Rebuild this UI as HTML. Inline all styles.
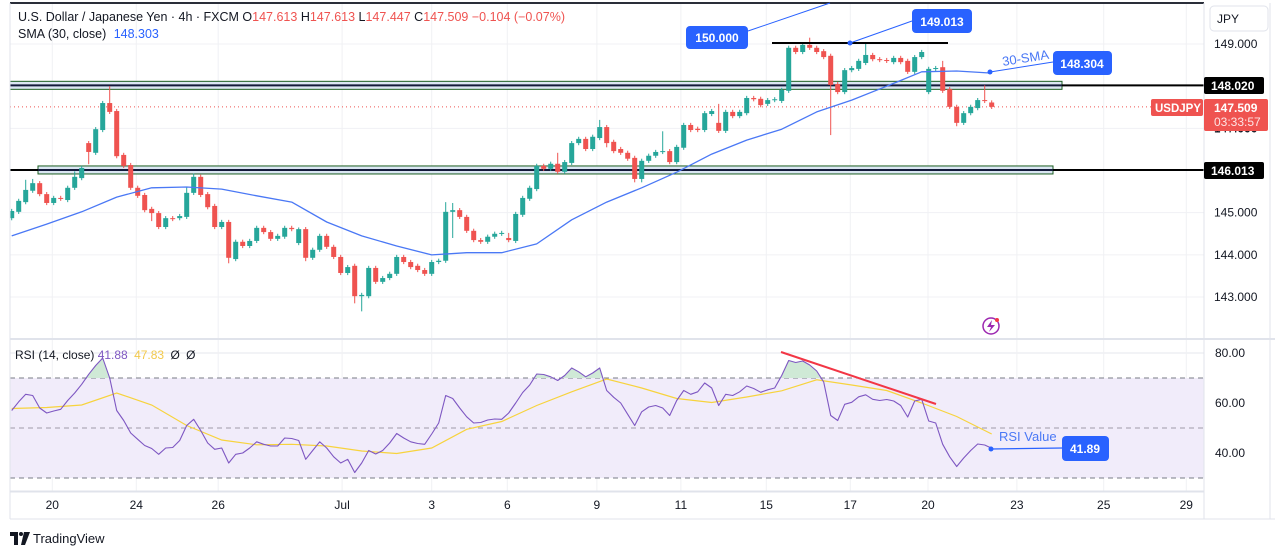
<!DOCTYPE html>
<html><head><meta charset="utf-8">
<style>
html,body{margin:0;padding:0;background:#fff;}
body{width:1275px;height:555px;overflow:hidden;position:relative;font-family:"Liberation Sans",sans-serif;}
svg{position:absolute;left:0;top:0;}
</style></head>
<body>
<svg id="chart" width="1275" height="555" viewBox="0 0 1275 555">
  <rect x="0" y="0" width="1275" height="555" fill="#fff"/>
  <g id="grid"></g>
  <g id="zones"></g>
  <g id="candles" clip-path="url(#pclip)"></g>
  <g id="sma" clip-path="url(#pclip)"></g>
  <g id="rsi"></g>
  <g id="annot"></g>
  <g id="axes"></g>
  <defs>
    <clipPath id="pclip"><rect x="10" y="3" width="1194" height="335"/></clipPath>
    <clipPath id="obclip"><rect x="10" y="340" width="1194" height="38"/></clipPath>
  </defs>
</svg>
<script>
// ---- data ----
const opens  = [144.87,145.02,145.25,145.52,145.70,145.44,145.23,145.35,145.30,145.59,145.82,146.65,146.42,146.96,147.60,147.41,146.37,146.13,145.59,145.42,145.09,144.99,144.66,144.87,144.87,144.90,145.47,145.85,145.44,145.16,144.66,144.78,143.90,144.31,144.21,144.33,144.64,144.54,144.38,144.43,144.64,144.28,144.61,143.93,144.12,144.45,144.19,143.95,143.57,143.74,143.02,143.02,143.69,143.36,143.45,143.55,143.95,143.83,143.74,143.64,143.55,143.83,143.86,145.02,145.06,144.90,144.57,144.35,144.31,144.43,144.50,144.40,144.33,144.95,145.33,145.56,146.11,146.04,146.16,145.97,146.18,146.65,146.75,146.51,146.77,147.03,146.68,146.51,146.42,146.30,145.80,146.23,146.35,146.44,146.46,146.20,146.54,147.08,146.99,146.96,147.34,147.13,146.94,147.39,147.29,147.36,147.72,147.70,147.58,147.67,147.65,147.89,148.91,148.81,148.98,148.91,148.83,148.72,148.05,147.86,148.38,148.41,148.55,148.74,148.64,148.62,148.57,148.67,148.60,148.34,148.69,147.86,148.41,148.45,147.93,147.51,147.13,147.36,147.48,147.67,147.613];
const closes = [145.04,145.28,145.54,145.70,145.44,145.23,145.35,145.33,145.59,145.85,146.06,146.44,146.98,147.60,147.39,146.34,146.11,145.59,145.40,145.06,144.99,144.66,144.87,144.85,144.92,145.47,145.85,145.42,145.13,144.66,144.78,143.93,144.31,144.21,144.33,144.64,144.54,144.38,144.45,144.64,144.61,144.61,143.93,144.12,144.45,144.19,143.95,143.57,143.71,143.02,143.05,143.69,143.36,143.45,143.55,143.95,143.83,143.71,143.64,143.55,143.83,143.86,145.02,145.06,144.90,144.57,144.35,144.31,144.43,144.50,144.52,144.35,144.97,145.35,145.59,146.11,146.04,146.16,145.97,146.20,146.65,146.75,146.51,146.80,147.03,146.65,146.46,146.42,146.28,145.80,146.23,146.35,146.44,146.46,146.20,146.56,147.08,146.96,146.96,147.36,147.41,146.94,147.39,147.29,147.39,147.72,147.69,147.55,147.67,147.69,147.91,148.91,148.81,148.98,148.91,148.81,148.69,148.03,147.86,148.38,148.43,148.60,148.74,148.64,148.62,148.60,148.67,148.57,148.34,148.69,148.81,148.41,148.43,147.89,147.51,147.13,147.36,147.51,147.67,147.65,147.509];
const wickHigh = {2:145.78,11:146.70,14:148.00,25:145.62,26:145.93,41:144.65,62:145.25,63:145.23,71:144.52,78:146.42,84:147.20,93:146.93,101:147.58,111:148.96,114:149.15,122:149.00,133:148.60,139:148.02,3:145.80,9:145.98};
const wickLow  = {11:146.15,20:144.80,49:142.85,50:142.66,63:144.40,85:146.55,89:145.72,90:145.72,117:146.84,31:143.80,42:143.85,135:147.05};
const smaIdx = [0,5,10,15,20,25,30,35,40,45,50,55,60,65,70,75,80,85,90,95,100,105,110,115,120,125,130,135,140];
const smaVal = [144.45,144.73,145.02,145.37,145.59,145.61,145.56,145.40,145.25,144.78,144.45,144.21,144.00,144.05,144.05,144.26,144.83,145.25,145.59,145.96,146.39,146.72,146.98,147.39,147.67,148.00,148.34,148.36,148.31];
const rsiVals = [57,60.5,63.5,63,58,56,56.8,57.5,61,64,67.5,71.5,75,78,70,57,53,48,45.5,43,41.8,39.5,42,42.2,45,51,53.5,49,44,41.5,42,36,39.5,40,42,44.5,43.5,42.8,42.8,46,45.8,45,37.5,41,44.5,42,38.5,36,37.5,32.2,36,41,39.6,41,44,47.8,46,44.5,43.8,43.5,47.6,52,63,61.8,58,54.5,52,52.2,53.2,53.6,53.5,56,60,64.2,67.2,71.6,71.4,70.5,69,71,74,72.5,70.5,72,74,65,62.3,60,55.5,51,56.5,58.4,59,58,55,61,65,63.5,64.5,68,66,59,63.5,63,64.5,66.8,65.8,64.3,65.3,66,71,77,76.2,76.8,75.2,72.8,68.4,55,53,59.5,60.3,62.5,63.3,61.5,61,61.4,60.8,59,54.4,60.8,61.5,52.8,52,43.5,38.5,34.6,38,41,43.6,43.2,41.9];
const rsiMaIdx = [0,5,10,15,20,25,30,35,40,45,50,55,60,65,70,75,80,85,90,95,100,105,110,115,120,125,130,135,140];
const rsiMaVal = [57.8,58.2,59.2,64,59.2,51,45.2,43.3,43.5,42.8,40.8,39.8,42,49.5,52.6,59,64.5,69.6,66,61.8,60.2,62.4,64.9,69.3,67.2,65,60,54.6,47.6];
const priceTicks = [149,148,147,146,145,144,143];
const rsiTicks = [80,60,40];
const rsiDashed = [70,50,30];
const dayLabels = ["20","24","26","Jul","3","6","9","11","15","17","20","23","25","29"];
const dayIndex  = [5.8,17.8,29.5,47.2,60,70.8,83.6,95.6,107.8,119.8,130.9,143.6,156,167.8];

// ---- scales ----
const X0=11.7, STEP=7;
const cx = i => X0 + i*STEP;
const py = p => 44 + (149-p)*42.17;
const ry = v => 353 + (80-v)*2.5;
const NS="http://www.w3.org/2000/svg";
function mk(tag, attrs, parent){const e=document.createElementNS(NS,tag);for(const k in attrs)e.setAttribute(k,attrs[k]);parent.appendChild(e);return e;}
const gGrid=document.getElementById('grid'), gC=document.getElementById('candles'), gS=document.getElementById('sma'), gR=document.getElementById('rsi'), gA=document.getElementById('axes'), gN=document.getElementById('annot'), gZ=document.getElementById('zones');

// grid
priceTicks.forEach(p=>{const l=mk('line',{x1:10,x2:1204,y1:py(p),y2:py(p),stroke:'#f0f1f4','stroke-width':1},gGrid);

});
rsiTicks.forEach(v=>{const l=mk('line',{x1:10,x2:1204,y1:ry(v),y2:ry(v),stroke:'#e6e7ec','stroke-width':1},gGrid);

});
dayIndex.forEach(d=>{const l=mk('line',{x1:cx(d),x2:cx(d),y1:3,y2:491,stroke:'#f0f1f4','stroke-width':1},gGrid);

});

// frame
mk('line',{x1:10,x2:1204,y1:3,y2:3,stroke:'#2a2e39','stroke-width':2},gA);
mk('line',{x1:10,x2:10,y1:3,y2:519,stroke:'#e0e3eb'},gA);
mk('line',{x1:1204,x2:1204,y1:3,y2:519,stroke:'#e0e3eb'},gA);
mk('line',{x1:10,x2:1275,y1:339,y2:339,stroke:'#e0e3eb','stroke-width':2},gA);
mk('line',{x1:10,x2:1204,y1:491.5,y2:491.5,stroke:'#e0e3eb','stroke-width':2},gA);
mk('line',{x1:10,x2:1275,y1:519,y2:519,stroke:'#e0e3eb'},gA);
mk('line',{x1:1270,x2:1270,y1:3,y2:519,stroke:'#e0e3eb'},gA);

// zones
function zone(x1,x2,p,name){
  const g=mk('g',{},gZ);
  
  
  const y=py(p);
  mk('rect',{x:x1,y:y-4,width:x2-x1,height:8,fill:'#dbe6f3',stroke:'#1b5e20','stroke-width':1},g);
  mk('line',{x1:x1,x2:x2,y1:y,y2:y,stroke:'#131a3a','stroke-width':2},g);
}
zone(10,1062,148.02,'resistance-zone-148');
zone(38,1053,146.013,'support-zone-146');
mk('line',{x1:1062,x2:1204,y1:py(148.02),y2:py(148.02),stroke:'#000','stroke-width':2},gZ);
mk('line',{x1:10,x2:38,y1:py(146.013),y2:py(146.013),stroke:'#000','stroke-width':2},gZ);
mk('line',{x1:1053,x2:1204,y1:py(146.013),y2:py(146.013),stroke:'#000','stroke-width':2},gZ);
// current price line
mk('line',{x1:10,x2:1204,y1:py(147.509),y2:py(147.509),stroke:'#ef5350','stroke-width':1,'stroke-dasharray':'1 3'},gZ);

// candles
for(let i=0;i<opens.length;i++){
  const o=opens[i], c=closes[i];
  const up=c>=o, col=up?'#26a69a':'#ef5350';
  const hi = wickHigh[i]!==undefined?wickHigh[i]:Math.max(o,c)+0.05;
  const lo = wickLow[i]!==undefined?wickLow[i]:Math.min(o,c)-0.05;
  const g=mk('g',{},gC);
  
  
  mk('line',{x1:cx(i),x2:cx(i),y1:py(hi),y2:py(lo),stroke:col,'stroke-width':1},g);
  const top=py(Math.max(o,c)), bot=py(Math.min(o,c));
  mk('rect',{x:cx(i)-2.5,y:top,width:5,height:Math.max(1,bot-top),fill:col},g);
}
// SMA
let d='';smaIdx.forEach((ix,k)=>{d+=(k?'L':'M')+cx(ix).toFixed(1)+' '+py(smaVal[k]).toFixed(1)+' ';});
const sp=mk('path',{d:d,fill:'none',stroke:'#4a78f5','stroke-width':1.3,'stroke-linejoin':'round'},gS);



// RSI pane
mk('rect',{x:10,y:ry(70),width:1194,height:ry(30)-ry(70),fill:'#f1ecfa'},gR);
rsiDashed.forEach(v=>{const l=mk('line',{x1:10,x2:1204,y1:ry(v),y2:ry(v),stroke:v===50?'#9e9aa8':'#787b86','stroke-width':1,'stroke-dasharray':'5 4'},gR);

});
let rd='';rsiVals.forEach((v,i)=>{rd+=(i?'L':'M')+cx(i).toFixed(1)+' '+ry(v).toFixed(1)+' ';});
const ob=mk('path',{d:rd+'L'+cx(rsiVals.length-1)+' '+ry(70)+' L'+cx(0)+' '+ry(70)+' Z',fill:'#cfe9d6','clip-path':'url(#obclip)'},gR);


let md='';rsiMaIdx.forEach((ix,k)=>{md+=(k?'L':'M')+cx(ix).toFixed(1)+' '+ry(rsiMaVal[k]).toFixed(1)+' ';});
const ml=mk('path',{d:md,fill:'none',stroke:'#f7d33d','stroke-width':1.2},gR);


const rl=mk('path',{d:rd,fill:'none',stroke:'#7e57c2','stroke-width':1.1,'stroke-linejoin':'round'},gR);



// axes labels
function txt(x,y,s,attrs,parent,name,inter){const t=mk('text',Object.assign({x:x,y:y,'font-size':12,fill:'#131722','font-family':'"Liberation Sans",sans-serif'},attrs||{}),parent||gA);t.textContent=s;

return t;}
priceTicks.forEach(p=>{if(p===148||p===146)return;txt(1214,py(p)+4,p.toFixed(3),{},gA,'price-tick-label');});
rsiTicks.forEach(v=>{txt(1215,ry(v)+4,v.toFixed(2),{},gA,'rsi-tick-label');});
dayLabels.forEach((s,k)=>{txt(cx(dayIndex[k]),509,s,{'text-anchor':'middle'},gA,'time-tick-label');});
</script>

<!-- static overlays -->
<svg width="1275" height="555" viewBox="0 0 1275 555" style="pointer-events:none">
  <g font-family="Liberation Sans, sans-serif">
    <rect x="1210" y="6" width="58" height="25" rx="4" fill="#fff" stroke="#e0e3eb"/>
    <text x="1217" y="23" font-size="12" fill="#131722">JPY</text>
    <rect x="1204" y="77" width="60" height="17" rx="2" fill="#000"/>
    <text x="1211" y="90" font-size="12" font-weight="bold" fill="#fff">148.020</text>
    <rect x="1204" y="162" width="60" height="17" rx="2" fill="#000"/>
    <text x="1211" y="175" font-size="12" font-weight="bold" fill="#fff">146.013</text>
    <text x="1214" y="132" font-size="12" fill="#131722">147.000</text>
    <rect x="1151" y="99" width="52" height="17" rx="2" fill="#ef5350"/>
    <text x="1155" y="112" font-size="11.5" font-weight="bold" fill="#fff">USDJPY</text>
    <rect x="1204" y="99" width="64" height="32" rx="2" fill="#ef5350"/>
    <text x="1214" y="112" font-size="12" font-weight="bold" fill="#fff">147.509</text>
    <text x="1214" y="126" font-size="12" fill="#fde4e4">03:33:57</text>

    <text x="18" y="21" font-size="12.5" fill="#131722">U.S. Dollar / Japanese Yen · 4h · FXCM <tspan>O</tspan><tspan fill="#ef5350">147.613</tspan> <tspan>H</tspan><tspan fill="#ef5350">147.613</tspan> <tspan>L</tspan><tspan fill="#ef5350">147.447</tspan> <tspan>C</tspan><tspan fill="#ef5350">147.509</tspan> <tspan fill="#ef5350">−0.104 (−0.07%)</tspan></text>
    <text x="18" y="38" font-size="12.5" fill="#131722">SMA (30, close) <tspan fill="#2962ff" dx="4">148.303</tspan></text>
    <text x="15" y="359" font-size="12" fill="#131722">RSI (14, close) <tspan fill="#7e57c2">41.88</tspan> <tspan fill="#f2c94c" dx="3">47.83</tspan> <tspan dx="3">Ø</tspan> <tspan dx="3">Ø</tspan></text>

    <line x1="748" y1="31" x2="830" y2="3" stroke="#2962ff" stroke-width="1"/>
    <rect x="686" y="26" width="62" height="23" rx="4" fill="#2962ff"/>
    <text x="717" y="42" font-size="12" font-weight="bold" fill="#fff" text-anchor="middle">150.000</text>
    <line x1="772" y1="43" x2="948" y2="43" stroke="#000" stroke-width="2"/>
    <line x1="850" y1="43" x2="912" y2="21" stroke="#2962ff" stroke-width="1"/>
    <circle cx="850" cy="43" r="2.5" fill="#2962ff"/>
    <rect x="912" y="9" width="60" height="24" rx="4" fill="#2962ff"/>
    <text x="942" y="26" font-size="12" font-weight="bold" fill="#fff" text-anchor="middle">149.013</text>
    <line x1="990" y1="72" x2="1053" y2="62" stroke="#2962ff" stroke-width="1"/>
    <circle cx="990" cy="72" r="2.5" fill="#2962ff"/>
    <text x="1003" y="66" font-size="13" fill="#4a78f5" transform="rotate(-9 1003 66)">30-SMA</text>
    <rect x="1053" y="51" width="59" height="24" rx="4" fill="#2962ff"/>
    <text x="1082" y="68" font-size="12" font-weight="bold" fill="#fff" text-anchor="middle">148.304</text>
    <line x1="781" y1="352" x2="936" y2="404" stroke="#f23645" stroke-width="2"/>
    <line x1="991" y1="449" x2="1063" y2="448" stroke="#2962ff" stroke-width="1.2"/>
    <circle cx="991" cy="449" r="2.5" fill="#2962ff"/>
    <text x="999" y="441" font-size="13" fill="#4a78f5">RSI Value</text>
    <rect x="1062" y="436" width="47" height="25" rx="4" fill="#2962ff"/>
    <text x="1085" y="453" font-size="12" font-weight="bold" fill="#fff" text-anchor="middle">41.89</text>
    <circle cx="991" cy="326" r="8" fill="none" stroke="#9c27b0" stroke-width="1.5"/>
    <path d="M992 320 L987 327 L991 327 L989 332 L995 325 L991 325 Z" fill="#9c27b0"/>
    <circle cx="997" cy="320" r="2" fill="#f23645"/>
    <g>
      <path d="M10 532 H18 V545 H14 V536 H10 Z" fill="#131722"/>
      <circle cx="21" cy="534" r="2" fill="#131722"/>
      <path d="M24 532 H30 L25 545 H21 Z" fill="#131722"/>
      <text x="33" y="543" font-size="13" fill="#131722">TradingView</text>
    </g>
  </g>
</svg>
</body></html>
